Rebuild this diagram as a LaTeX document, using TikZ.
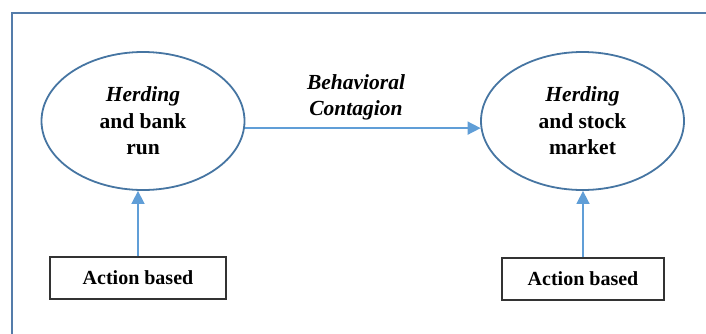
\documentclass[tikz,border=0pt]{standalone}
\usepackage{fontspec}
\setmainfont{Liberation Serif}
\usetikzlibrary{arrows.meta,shapes.geometric}
\definecolor{framecol}{RGB}{84,124,170}
\definecolor{ellcol}{RGB}{70,117,162}
\definecolor{arrcol}{RGB}{96,158,215}
\tikzset{
  topic/.style={ellipse, draw=ellcol, line width=1.8pt, minimum width=203pt, minimum height=138pt, inner sep=0pt, align=center, font=\fontsize{21.5}{26.5}\selectfont\bfseries},
  actbox/.style={draw=black!80, line width=1.4pt, minimum height=42pt, inner sep=0pt, font=\fontsize{20}{24}\selectfont\bfseries},
  flow/.style={draw=arrcol, line width=1.6pt, -{Triangle[length=13pt,width=13pt]}},
}
\begin{document}
\begin{tikzpicture}[x=1pt,y=-1pt]
  \useasboundingbox (0,0) rectangle (706,333);
  % outer frame, open to the right and bottom
  \draw[framecol, line width=2pt] (12,340) -- (12,13) -- (712,13);
  % topics
  \node[topic] (bank) at (143,121) {\itshape Herding\\and bank\\run};
  \node[topic] (stock) at (582.5,121) {\itshape Herding\\and stock\\market};
  % action boxes
  \node[actbox, minimum width=176pt] (act1) at (138,278) {Action based};
  \node[actbox, minimum width=162pt] (act2) at (583,279) {Action based};
  % connectors
  \draw[flow] (bank.-4.5) -- (stock.184.5);
  \node[align=center, font=\fontsize{21.5}{26}\selectfont\bfseries\itshape] (lab) at (356,97) {Behavioral\\Contagion};
  \draw[flow] (act1.north) -- (act1.north |- bank.south);
  \draw[flow] (act2.north) -- (act2.north |- stock.south);
\end{tikzpicture}
\end{document}
